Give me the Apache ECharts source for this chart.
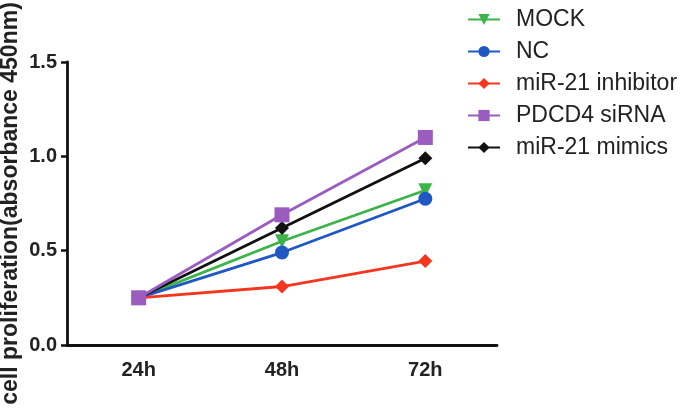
<!DOCTYPE html>
<html>
<head>
<meta charset="utf-8">
<script src="https://cdn.jsdelivr.net/npm/echarts@6/dist/echarts.min.js"></script>
<style>
    html, body { margin: 0; padding: 0; background: #fff; }
    #chart { width: 685px; height: 411px; }
</style>
</head>
<body>
<div id="chart"></div>
<script>
// time points
var timePoints = [ '24h', '48h', '72h' ];
var yTicks = [ 0, 0.5, 1.0, 1.5 ];

// absorbance at 450nm
var mockData = [ 0.25, 0.55, 0.82 ];
var ncData = [ 0.25, 0.49, 0.775 ];
var inhibitorData = [ 0.25, 0.31, 0.445 ];
var sirnaData = [ 0.25, 0.69, 1.10 ];
var mimicsData = [ 0.25, 0.62, 0.99 ];

var chart = echarts.init(document.getElementById('chart'), null, { renderer : 'canvas' });

function makeSeries(name, data, color, symbol, size, z) {
    return {
        name : name,
        type : 'line',
        data : data,
        symbol : symbol,
        symbolSize : size,
        z : z,
        lineStyle : { color : color, width : 2.8 },
        itemStyle : { color : color },
        emphasis : { disabled : true }
    };
}

var option = {
    animation : false,
    textStyle : { fontFamily : 'Liberation Sans, Arial, sans-serif' },
    legend : {
        orient : 'vertical',
        left : 462,
        top : 3,
        itemWidth : 32,
        itemHeight : 14,
        itemGap : 9,
        textStyle : {
            fontSize : 23,
            color : '#222',
            padding : [ 0, 0, 0, 11 ]
        },
        data : [ 'MOCK', 'NC', 'miR-21 inhibitor', 'PDCD4 siRNA', 'miR-21 mimics' ]
    },
    grid : {
        left : 67,
        right : 188,
        top : 62,
        bottom : 66,
        outerBoundsMode : 'none'
    },
    xAxis : {
        type : 'category',
        data : timePoints,
        boundaryGap : true,
        axisLine : { lineStyle : { color : '#111', width : 2.8 } },
        axisTick : { alignWithLabel : true, length : 6, lineStyle : { color : '#111', width : 2.5 } },
        axisLabel : { fontSize : 20, fontWeight : 'bold', color : '#222', margin : 15 }
    },
    yAxis : {
        type : 'value',
        min : yTicks[0],
        max : yTicks[yTicks.length - 1],
        interval : 0.5,
        name : 'cell proliferation(absorbance 450nm)',
        nameLocation : 'middle',
        nameGap : 45,
        nameMoveOverlap : false,
        nameTextStyle : { fontSize : 23, fontWeight : 'bold', color : '#222' },
        splitLine : { show : false },
        axisLine : { show : true, lineStyle : { color : '#111', width : 2.8 } },
        axisTick : { show : true, length : 6, lineStyle : { color : '#111', width : 2.5 } },
        axisLabel : {
            fontSize : 20,
            fontWeight : 'bold',
            color : '#222',
            margin : 10,
            formatter : function(v) {
                return v.toFixed(1);
            }
        }
    },
    series : [
        makeSeries('MOCK', mockData, '#3cb44a', 'path://M0,0 L10,0 L5,9 Z', 14, 2),
        makeSeries('NC', ncData, '#1f57c3', 'circle', 14, 2),
        makeSeries('miR-21 inhibitor', inhibitorData, '#f4361f', 'diamond', 14, 2),
        makeSeries('PDCD4 siRNA', sirnaData, '#9a5cbf', 'rect', 15, 4),
        makeSeries('miR-21 mimics', mimicsData, '#111111', 'diamond', 14, 3)
    ]
};
chart.setOption(option);
</script>
</body>
</html>
